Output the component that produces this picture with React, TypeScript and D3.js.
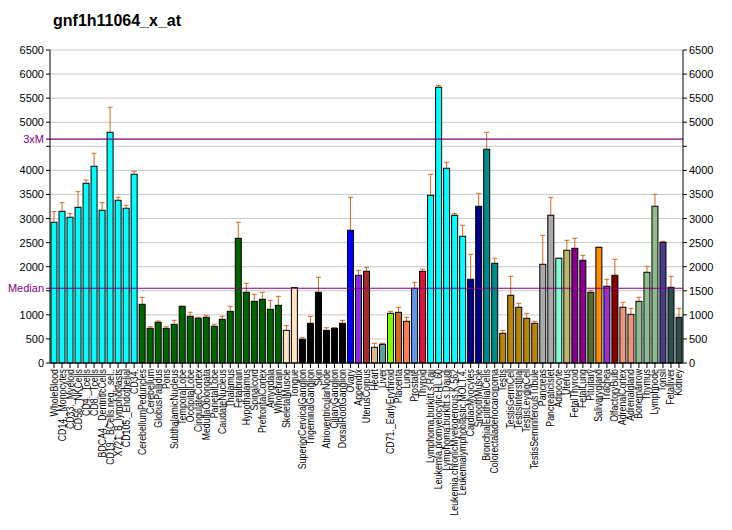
import * as d3 from "d3";

const TITLE = "gnf1h11064_x_at";

const labels = [
  "WholeBlood", "CD14._Monocytes", "CD33._Myeloid", "CD56._NKCells", "CD4._Tcells",
  "CD8._Tcells", "BDCA4._DentriticCells", "CD19._BCells.neg._sel..", "X721_B_lymphoblasts",
  "CD105._Endothelial", "CD34.", "CerebellumPeduncles", "Cerebellum", "GlobusPallidus", "Pons",
  "SubthalamicNucleus", "TemporalLobe", "OccipitalLobe", "CingulateCortex", "MedullaOblongata",
  "ParietalLobe", "CaudateNucleus", "Thalamus", "Fetalbrain", "Hypothalamus", "Spinalcord",
  "PrefrontalCortex", "Amygdala", "Wholebrain", "SkeletalMuscle", "Tongue",
  "SuperiorCervicalGanglion", "TrigeminalGanglion", "Skin", "AtrioventricularNode",
  "CiliaryGanglion", "DorsalRootGanglion", "Ovary", "Appendix", "UterusCorpus", "Heart", "Liver",
  "CD71._EarlyErythroid", "Placenta", "Lung", "Prostate", "Thyroid", "Lymphoma.burkitt.s.Raji",
  "Leukemia.promyelocytic.HL.60", "Lymphoma.burkitt.s.Daudi", "Leukemia.chronicMyelogenous.K.562",
  "Leukemialymphoblastic.MOLT.4.", "CardiacMyocytes", "SmoothMuscle", "BronchialEpithelialCells",
  "Colorectaladenocarcinoma", "Testis", "TestisGermCell", "TestisInterstitial", "TestisLeydigCell",
  "TestisSeminiferousTubule", "Pancreas", "PancreaticIslet", "Adipocyte", "Uterus", "FetalThyroid",
  "FetalLung", "Pituitary", "Salivarygland", "Trachea", "OlfactoryBulb", "AdrenalCortex",
  "Adrenalgland", "Bonemarrow", "Thymus", "Lymphnode", "Tonsil", "Fetalliver", "Kidney",
];

const values = [
  2922, 3150, 3026, 3233, 3732, 4085, 3171, 4791, 3379, 3213, 3919,
  1219, 720, 845, 720, 803, 1177, 969, 928, 949, 762, 907, 1073, 2590, 1468, 1281, 1323, 1115, 1198,
  678, 1565, 492, 824, 1468, 678, 720, 824, 2756, 1821, 1904, 326, 388, 1032, 1053, 866, 1551, 1904,
  3483, 5726, 4044, 3068, 2632, 1738, 3255, 4439, 2071, 617, 1406, 1157, 928, 824, 2050, 3068,
  2175, 2341, 2382, 2133, 1468, 2403, 1593, 1821, 1157, 1011, 1281, 1884, 3255, 2507, 1572, 949,
];

const errTops = [
  3143, 3330, 3101, 3558, 3801, 4355, 3330, 5311, 3441, 3275, 3981,
  1364, 754, 872, 754, 886, 1177, 1053, 949, 990, 803, 969, 1177, 2922, 1655, 1427, 1468, 1302, 1385,
  775, 1565, 526, 969, 1780, 733, 733, 886, 3441, 1925, 1988, 409, 409, 1073, 1157, 949, 1676, 1946,
  3919, 5760, 4168, 3101, 2860, 2258, 3525, 4791, 2175, 678, 1801, 1240, 1032, 866, 2652, 3441,
  2175, 2548, 2590, 2237, 1510, 2403, 1738, 2154, 1261, 1136, 1364, 2008, 3504, 2528, 1801, 1136,
];

const colors = [
  ...Array(11).fill("#00FFFF"),
  ...Array(18).fill("#006400"),
  "#FFE4C4", "#FFE4C4",
  ...Array(6).fill("#000000"),
  "#0000FF", "#8A2BE2", "#A52A2A", "#DEB887", "#5F9EA0", "#7FFF00", "#D2691E", "#FF7F50",
  "#6495ED", "#DC143C",
  ...Array(5).fill("#00FFFF"),
  "#00008B", "#00008B", "#008B8B", "#008B8B",
  ...Array(5).fill("#B8860B"),
  "#A9A9A9", "#A9A9A9", "#7FFFD4", "#BDB76B", "#8B008B", "#8B008B", "#556B2F", "#FF8C00",
  "#9932CC", "#8B0000", "#E9967A", "#E9967A", "#8FBC8F", "#8FBC8F", "#8FBC8F", "#483D8B",
  "#2F4F4F", "#2F4F4F",
];

const yTicks = [0, 500, 1000, 1500, 2000, 2500, 3000, 3500, 4000, 4500, 5000, 5500, 6000, 6500];
const hiddenLeft = [1500, 4500];
const hiddenRight = [4500];
const MEDIAN = 1552;
const THREE_X_M = 4650;

const W = 732;
const H = 530;
const LEFT = 50;
const RIGHT = 683;
const TOP = 50;
const BOTTOM = 363;

export default function App() {
  const x = d3.scaleBand<number>().domain(d3.range(labels.length)).range([LEFT, RIGHT]).paddingInner(0.25).paddingOuter(0.125);
  const y = d3.scaleLinear().domain([0, 6500]).range([BOTTOM, TOP]);
  const cx = (i: number) => (x(i) as number) + x.bandwidth() / 2;
  const font = "Arial, 'Liberation Sans', sans-serif";

  return (
    <svg width={W} height={H} style={{ position: "absolute", left: 0, top: 0, background: "#fff" }} fontFamily={font}>
      <rect width={W} height={H} fill="#fff" />
      <text x={53} y={26} fontSize={16} fontWeight="bold" fill="#000">{TITLE}</text>

      {yTicks.map((t) => (
        <line key={"g" + t} x1={LEFT} x2={RIGHT} y1={y(t)} y2={y(t)} stroke="#c8c8c8" strokeWidth={1} />
      ))}

      {values.map((v, i) => (
        <g key={"b" + i}>
          <line x1={cx(i)} x2={cx(i)} y1={y(v)} y2={y(errTops[i])} stroke="#D2691E" strokeWidth={1} />
          <line x1={cx(i) - 2.5} x2={cx(i) + 2.5} y1={y(errTops[i])} y2={y(errTops[i])} stroke="#D2691E" strokeWidth={1} />
          <rect x={x(i)} y={y(v)} width={x.bandwidth()} height={BOTTOM - y(v)} fill={colors[i]} stroke="#000" strokeWidth={1} />
        </g>
      ))}

      <line x1={46} x2={RIGHT} y1={y(MEDIAN)} y2={y(MEDIAN)} stroke="#800080" strokeWidth={1.2} />
      <line x1={46} x2={RIGHT} y1={y(THREE_X_M)} y2={y(THREE_X_M)} stroke="#800080" strokeWidth={1.2} />
      <text x={44} y={y(MEDIAN) + 4} textAnchor="end" fontSize={11} fill="#800080">Median</text>
      <text x={44} y={y(THREE_X_M) + 4} textAnchor="end" fontSize={11} fill="#800080">3xM</text>

      <line x1={LEFT} x2={LEFT} y1={TOP} y2={BOTTOM} stroke="#000" />
      <line x1={RIGHT} x2={RIGHT} y1={TOP} y2={BOTTOM} stroke="#000" />
      <line x1={LEFT} x2={RIGHT} y1={BOTTOM} y2={BOTTOM} stroke="#000" />

      {yTicks.map((t) => (
        <g key={"t" + t}>
          <line x1={LEFT - 4} x2={LEFT} y1={y(t)} y2={y(t)} stroke="#000" />
          <line x1={RIGHT} x2={RIGHT + 4} y1={y(t)} y2={y(t)} stroke="#000" />
          {!hiddenLeft.includes(t) && (
            <text x={LEFT - 6} y={y(t) + 4} textAnchor="end" fontSize={11} fill="#000">{t}</text>
          )}
          {!hiddenRight.includes(t) && (
            <text x={RIGHT + 6} y={y(t) + 4} textAnchor="start" fontSize={11} fill="#000">{t}</text>
          )}
        </g>
      ))}

      {labels.map((l, i) => (
        <g key={"l" + i}>
          <line x1={cx(i)} x2={cx(i)} y1={BOTTOM} y2={BOTTOM + 5} stroke="#000" />
          <text transform={`translate(${cx(i) + 3.5},${BOTTOM + 6}) rotate(-90) scale(0.88,1)`} textAnchor="end" fontSize={10} fill="#000">{l}</text>
        </g>
      ))}
    </svg>
  );
}
